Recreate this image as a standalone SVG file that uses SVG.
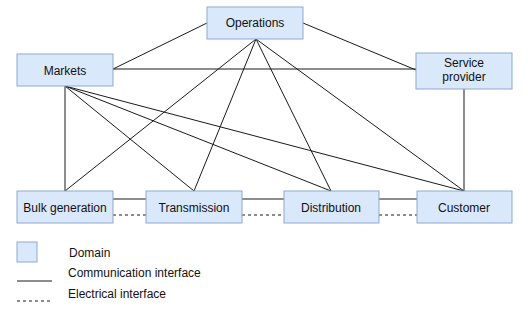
<svg xmlns="http://www.w3.org/2000/svg" width="528" height="310" viewBox="0 0 528 310">
<style>
.box{fill:#dae8fc;stroke:#8ea9cf;stroke-width:1}
.t{font-family:"Liberation Sans",Arial,sans-serif;font-size:12px;fill:#111;text-anchor:middle}
.lt{font-family:"Liberation Sans",Arial,sans-serif;font-size:12px;fill:#111}
.c{stroke:#1a1a1a;stroke-width:1;fill:none}
.e{stroke:#1a1a1a;stroke-width:1;fill:none;stroke-dasharray:3 3}
</style>
<rect width="528" height="310" fill="#fff"/>
<g id="connectors">
<line class="c" x1="113" y1="69" x2="207" y2="23"/>
<line class="c" x1="303" y1="23" x2="416" y2="70"/>
<line class="c" x1="113" y1="69" x2="416" y2="69"/>
<line class="c" x1="256" y1="39" x2="65" y2="191"/>
<line class="c" x1="256" y1="39" x2="194" y2="191"/>
<line class="c" x1="256" y1="39" x2="331" y2="191"/>
<line class="c" x1="256" y1="39" x2="464" y2="191"/>
<line class="c" x1="65" y1="86" x2="65" y2="191"/>
<line class="c" x1="65" y1="86" x2="194" y2="191"/>
<line class="c" x1="65" y1="86" x2="331" y2="191"/>
<line class="c" x1="65" y1="86" x2="464" y2="191"/>
<line class="c" x1="464" y1="89" x2="464" y2="191"/>
<line class="c" x1="113" y1="199" x2="146" y2="199"/>
<line class="c" x1="242" y1="199" x2="284" y2="199"/>
<line class="c" x1="379" y1="199" x2="417" y2="199"/>
<line class="e" x1="113" y1="215" x2="146" y2="215"/>
<line class="e" x1="242" y1="215" x2="284" y2="215"/>
<line class="e" x1="379" y1="215" x2="417" y2="215"/>
</g>
<g id="operations"><rect class="box" x="207" y="7" width="96" height="32"/><text class="t" x="255" y="27">Operations</text></g>
<g id="markets"><rect class="box" x="17" y="54" width="96" height="32"/><text class="t" x="65" y="75">Markets</text></g>
<g id="service-provider"><rect class="box" x="416" y="53" width="96" height="36"/><text class="t" x="464" y="67">Service</text><text class="t" x="464" y="81">provider</text></g>
<g id="bulk-generation"><rect class="box" x="17" y="191" width="96" height="32"/><text class="t" x="65" y="212">Bulk generation</text></g>
<g id="transmission"><rect class="box" x="146" y="191" width="96" height="32"/><text class="t" x="194" y="212">Transmission</text></g>
<g id="distribution"><rect class="box" x="284" y="191" width="95" height="32"/><text class="t" x="331" y="212">Distribution</text></g>
<g id="customer"><rect class="box" x="417" y="191" width="95" height="32"/><text class="t" x="464" y="212">Customer</text></g>
<g id="legend">
<rect class="box" x="17" y="242" width="20" height="20"/>
<text class="lt" x="69" y="257">Domain</text>
<line class="c" x1="17" y1="281" x2="52" y2="281"/>
<text class="lt" x="68" y="277">Communication interface</text>
<line class="e" x1="17" y1="301" x2="52" y2="301"/>
<text class="lt" x="68" y="298">Electrical interface</text>
</g>
</svg>
